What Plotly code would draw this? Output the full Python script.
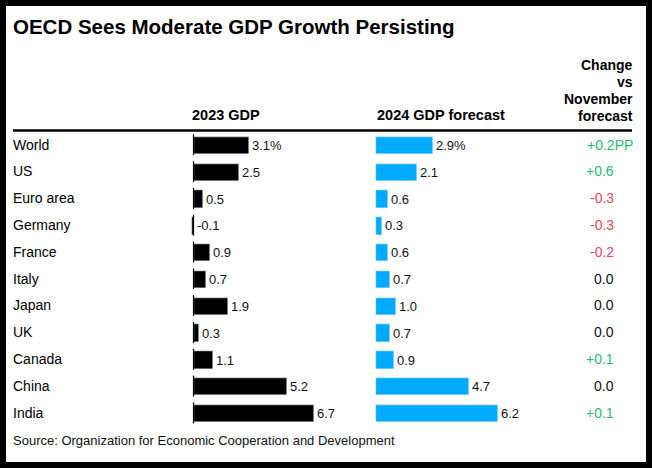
import plotly.graph_objects as go

countries = ["World", "US", "Euro area", "Germany", "France", "Italy",
             "Japan", "UK", "Canada", "China", "India"]
gdp_2023 = [3.1, 2.5, 0.5, -0.1, 0.9, 0.7, 1.9, 0.3, 1.1, 5.2, 6.7]
gdp_2024 = [2.9, 2.1, 0.6, 0.3, 0.6, 0.7, 1.0, 0.7, 0.9, 4.7, 6.2]
change = [0.2, 0.6, -0.3, -0.3, -0.2, 0.0, 0.0, 0.0, 0.1, 0.0, 0.1]

W, H = 652, 468
FONT = "Liberation Sans, Arial, sans-serif"
BLUE = "#00aaff"
GREEN = "#1fbd72"
RED = "#f2435d"


# pixel -> paper helpers
def px(x):
    return x / W


def py(y):
    return 1 - y / H


rows = list(range(len(countries)))

fig = go.Figure()
fig.add_trace(go.Bar(x=gdp_2023, y=rows, orientation="h", marker_color="black",
                     width=0.65, xaxis="x", yaxis="y", hoverinfo="skip"))
fig.add_trace(go.Bar(x=gdp_2024, y=rows, orientation="h", marker_color=BLUE,
                     width=0.65, xaxis="x2", yaxis="y", hoverinfo="skip"))

ann = []
# title
ann.append(dict(text="<b>OECD Sees Moderate GDP Growth Persisting</b>", x=px(11), y=py(26),
                xref="paper", yref="paper", xanchor="left", yanchor="middle", showarrow=False,
                font=dict(size=20.5, color="black", family=FONT)))
# column headers
ann.append(dict(text="<b>2023 GDP</b>", x=px(190), y=py(115), xref="paper", yref="paper",
                xanchor="left", yanchor="middle", showarrow=False,
                font=dict(size=14.5, color="black", family=FONT)))
ann.append(dict(text="<b>2024 GDP forecast</b>", x=px(375), y=py(115), xref="paper", yref="paper",
                xanchor="left", yanchor="middle", showarrow=False,
                font=dict(size=14.5, color="black", family=FONT)))
for k, line in enumerate(["Change", "vs", "November", "forecast"]):
    ann.append(dict(text="<b>" + line + "</b>", x=px(635), y=py(65 + 17 * k), xref="paper",
                    yref="paper", xanchor="right", yanchor="middle", showarrow=False,
                    font=dict(size=14, color="black", family=FONT)))

for i, c in enumerate(countries):
    ann.append(dict(text=c, x=px(11), y=i, xref="paper", yref="y", xanchor="left",
                    yanchor="middle", showarrow=False, yshift=1,
                    font=dict(size=14, color="black", family=FONT)))
    t1 = f"{gdp_2023[i]:.1f}" + ("%" if i == 0 else "")
    ann.append(dict(text=t1, x=max(gdp_2023[i], 0), y=i, xref="x", yref="y", xanchor="left",
                    yanchor="middle", xshift=1, showarrow=False,
                    font=dict(size=13, color="#111", family=FONT)))
    t2 = f"{gdp_2024[i]:.1f}" + ("%" if i == 0 else "")
    ann.append(dict(text=t2, x=max(gdp_2024[i], 0), y=i, xref="x2", yref="y", xanchor="left",
                    yanchor="middle", xshift=1, showarrow=False,
                    font=dict(size=13, color="#111", family=FONT)))
    v = change[i]
    if v > 0:
        col, txt = GREEN, f"{v:+.1f}"
    elif v < 0:
        col, txt = RED, f"{v:+.1f}"
    else:
        col, txt = "#111", f"{v:.1f}"
    # first row carries the unit, hanging to the right of the column
    if i == 0:
        txt += "PP"
    ann.append(dict(text=txt, x=px(635 if i == 0 else 616), y=i, xref="paper", yref="y",
                    xanchor="right", yanchor="middle", showarrow=False, yshift=1,
                    font=dict(size=14, color=col, family=FONT)))

ann.append(dict(text="Source: Organization for Economic Cooperation and Development",
                x=px(11), y=py(440), xref="paper", yref="paper", xanchor="left",
                yanchor="middle", showarrow=False,
                font=dict(size=13, color="#111", family=FONT)))

shapes = [
    # white card on black frame
    dict(type="rect", xref="paper", yref="paper", x0=px(6), x1=px(646), y0=py(462), y1=py(6),
         fillcolor="white", line_width=0, layer="below"),
    # header rule
    dict(type="line", xref="paper", yref="paper", x0=px(13), x1=px(632), y0=py(130.5),
         y1=py(130.5), line=dict(color="black", width=2.5)),
]
# zero line ticks for the 2023 column
for i in rows:
    shapes.append(dict(type="line", xref="x", yref="y", x0=0, x1=0, y0=i - 0.42, y1=i + 0.36,
                       line=dict(color="black", width=1.2)))

ax = dict(showgrid=False, zeroline=False, showticklabels=False, showline=False, fixedrange=True)
fig.update_layout(
    width=W, height=H,
    margin=dict(l=0, r=0, t=0, b=0),
    paper_bgcolor="black",
    plot_bgcolor="rgba(0,0,0,0)",
    showlegend=False,
    bargap=0,
    xaxis=dict(domain=[px(150), px(365)], range=[(150 - 193.5) / 18, (365 - 193.5) / 18],
               anchor="y", **ax),
    xaxis2=dict(domain=[px(370), px(600)], range=[(370 - 376) / 19.7, (600 - 376) / 19.7],
                anchor="y", **ax),
    yaxis=dict(domain=[py(427.1), py(132.1)], range=[len(countries) - 0.5, -0.5], **ax),
    annotations=ann,
    shapes=shapes,
)

fig.write_html("out.html", config={"displayModeBar": False},
               post_script="document.body.style.margin='0';")
